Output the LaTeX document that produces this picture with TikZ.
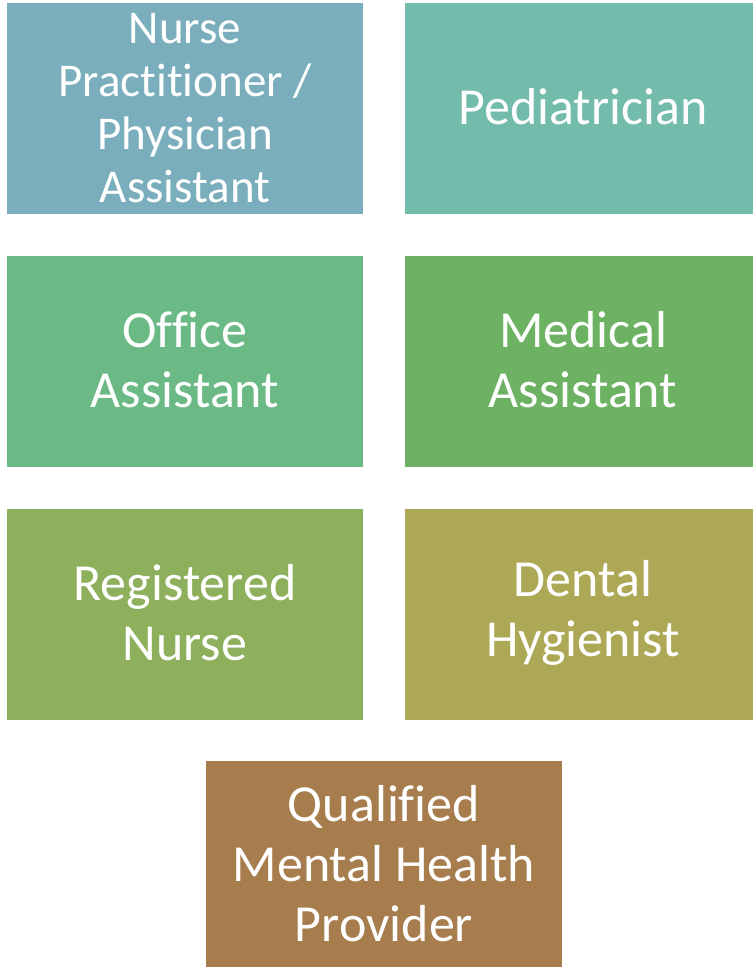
\documentclass[tikz,border=0pt]{standalone}
\usepackage{fontspec}
\setmainfont{Carlito}[Ligatures=NoCommon]
\definecolor{cA}{RGB}{122,174,189}
\definecolor{cB}{RGB}{115,187,170}
\definecolor{cC}{RGB}{107,186,134}
\definecolor{cD}{RGB}{108,178,98}
\definecolor{cE}{RGB}{142,176,92}
\definecolor{cF}{RGB}{173,168,86}
\definecolor{cG}{RGB}{167,125,78}
\tikzset{
  boxshape/.style={rectangle, inner sep=0pt, outer sep=0pt, minimum height=211pt},
  roletext/.style={inner sep=0pt, align=center, text=white, font=\fontsize{52}{60}\selectfont},
  smallrole/.style={font=\fontsize{47}{53}\selectfont}
}
\begin{document}
\begin{tikzpicture}[x=1pt,y=1pt]
\useasboundingbox (0,0) rectangle (753,-967);
\node[boxshape, fill=cA, minimum width=356pt] (np) at (185,-108.5) {};
\node[boxshape, fill=cB, minimum width=348pt] (ped) at (579,-108.5) {};
\node[boxshape, fill=cC, minimum width=356pt] (oa) at (185,-361.5) {};
\node[boxshape, fill=cD, minimum width=348pt] (ma) at (579,-361.5) {};
\node[boxshape, fill=cE, minimum width=356pt] (rn) at (185,-614.5) {};
\node[boxshape, fill=cF, minimum width=348pt] (dh) at (579,-614.5) {};
\node[boxshape, fill=cG, minimum width=356pt, minimum height=206pt] (qm) at (384,-864) {};
\node[roletext, smallrole] (tnp) at (np.center) {Nurse\\Practitioner /\\Physician\\Assistant};
\node[roletext] (tped) at ([shift={(4,2)}]ped.center) {Pediatrician};
\node[roletext] (toa) at ([shift={(0,2)}]oa.center) {Office\\Assistant};
\node[roletext] (tma) at ([shift={(4,2)}]ma.center) {Medical\\Assistant};
\node[roletext] (trn) at ([shift={(0,2)}]rn.center) {Registered\\Nurse};
\node[roletext] (tdh) at ([shift={(4,2)}]dh.center) {Dental\\Hygienist};
\node[roletext] (tqm) at (qm.center) {Qualified\\Mental Health\\Provider};
\end{tikzpicture}
\end{document}
